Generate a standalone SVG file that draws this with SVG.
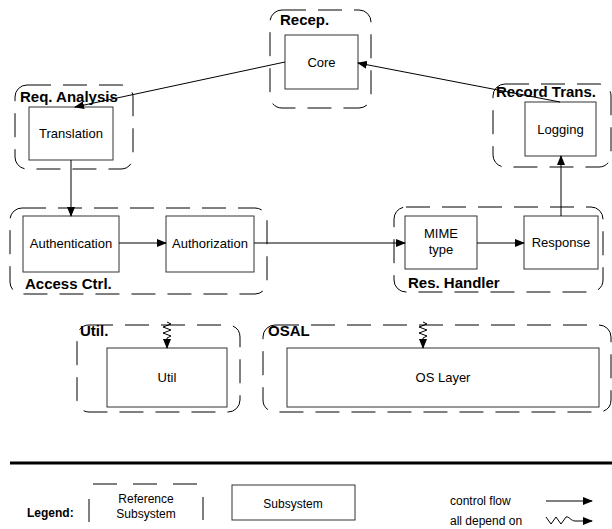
<svg xmlns="http://www.w3.org/2000/svg" width="612" height="529" viewBox="0 0 612 529">
<defs>
<style>
.grp{fill:none;stroke:#000;stroke-width:1;stroke-dasharray:24 12}
.box{fill:#fff;stroke:#333;stroke-width:1}
.lbl{font-family:"Liberation Sans",Arial,sans-serif;font-size:13px;fill:#000;text-anchor:middle}
.glbl{font-family:"Liberation Sans",Arial,sans-serif;font-size:15px;font-weight:bold;fill:#000}
.ln{fill:none;stroke:#000;stroke-width:1}
.leg{font-family:"Liberation Sans",Arial,sans-serif;font-size:12px;fill:#000}
</style>
<marker id="ah" markerWidth="10" markerHeight="8" refX="9" refY="4" orient="auto" markerUnits="userSpaceOnUse">
<path d="M0,0 L10,4 L0,8 Z" fill="#000"/>
</marker>
</defs>
<rect width="612" height="529" fill="#fff"/>

<g id="recep">
<rect class="grp" x="270" y="10" width="101" height="98" rx="12"/>
<text class="glbl" x="280" y="25">Recep.</text>
</g>
<g id="core">
<rect class="box" x="285" y="35" width="73" height="54"/>
<text class="lbl" x="321.5" y="67">Core</text>
</g>

<g id="req-analysis">
<rect class="grp" x="15" y="85" width="118" height="84" rx="12"/>
</g>
<g id="translation">
<rect class="box" x="29" y="107" width="84" height="53"/>
<text class="lbl" x="71" y="138">Translation</text>
</g>

<g id="record-trans">
<rect class="grp" x="493" y="84" width="118" height="83" rx="12"/>
</g>
<g id="logging">
<rect class="box" x="525" y="102" width="71" height="54"/>
<text class="lbl" x="560.5" y="134">Logging</text>
</g>

<g id="access-ctrl">
<rect class="grp" x="10" y="208" width="257" height="86" rx="12"/>
<text class="glbl" x="25" y="289">Access Ctrl.</text>
</g>
<g id="authentication">
<rect class="box" x="23" y="216" width="96" height="56"/>
<text class="lbl" x="71" y="248">Authentication</text>
</g>
<g id="authorization">
<rect class="box" x="166" y="216" width="88" height="56"/>
<text class="lbl" x="210" y="248">Authorization</text>
</g>

<g id="res-handler">
<rect class="grp" x="394" y="207" width="209" height="85" rx="12"/>
<text class="glbl" x="408" y="288">Res. Handler</text>
</g>
<g id="mime">
<rect class="box" x="405" y="216" width="72" height="53"/>
<text class="lbl" x="441" y="238">MIME</text>
<text class="lbl" x="441" y="254">type</text>
</g>
<g id="response">
<rect class="box" x="524" y="216" width="74" height="53"/>
<text class="lbl" x="561" y="247">Response</text>
</g>

<g id="util-grp">
<rect class="grp" x="77" y="325" width="163" height="87" rx="12"/>
<text class="glbl" x="80" y="336">Util.</text>
</g>
<g id="util">
<rect class="box" x="107" y="348" width="120" height="59"/>
<text class="lbl" x="167" y="382">Util</text>
</g>

<g id="osal">
<rect class="grp" x="263" y="325" width="348" height="87" rx="12"/>
<text class="glbl" x="268" y="336">OSAL</text>
</g>
<g id="os-layer">
<rect class="box" x="287" y="348" width="312" height="59"/>
<text class="lbl" x="443" y="382">OS Layer</text>
</g>

<g id="connectors">
<line class="ln" x1="285" y1="62" x2="75" y2="107" marker-end="url(#ah)"/>
<line class="ln" x1="560" y1="102" x2="358" y2="63" marker-end="url(#ah)"/>
<line class="ln" x1="71" y1="160" x2="71" y2="216" marker-end="url(#ah)"/>
<line class="ln" x1="119" y1="243" x2="166" y2="243" marker-end="url(#ah)"/>
<line class="ln" x1="254" y1="243" x2="405" y2="243" marker-end="url(#ah)"/>
<line class="ln" x1="477" y1="243" x2="524" y2="243" marker-end="url(#ah)"/>
<line class="ln" x1="561" y1="216" x2="561" y2="156" marker-end="url(#ah)"/>
<path class="ln" d="M167,322 L171,324 L163,327 L171,330 L163,333 L171,336 L167,338 L167,348" marker-end="url(#ah)"/>
<path class="ln" d="M423,322 L427,324 L419,327 L427,330 L419,333 L427,336 L423,338 L423,348" marker-end="url(#ah)"/>
</g>

<text class="glbl" x="20" y="102">Req. Analysis</text>
<text class="glbl" x="496" y="97">Record Trans.</text>

<g id="legend">
<line x1="10" y1="463" x2="612" y2="463" stroke="#000" stroke-width="3"/>
<text class="leg" x="27" y="517" font-weight="bold">Legend:</text>
<line class="ln" x1="89" y1="499" x2="89" y2="522" stroke="#333"/>
<line class="ln" x1="203" y1="497" x2="203" y2="520" stroke="#333"/>
<line class="ln" x1="93" y1="484" x2="117" y2="484"/>
<line class="ln" x1="133" y1="484" x2="157" y2="484"/>
<line class="ln" x1="173" y1="484" x2="197" y2="484"/>
<text class="lbl" x="146" y="503" style="font-size:12px">Reference</text>
<text class="lbl" x="146" y="518" style="font-size:12px">Subsystem</text>
<rect class="box" x="232" y="485" width="123" height="35"/>
<text class="lbl" x="293" y="508" style="font-size:12px">Subsystem</text>
<text class="leg" x="450" y="505">control flow</text>
<text class="leg" x="450" y="525">all depend on</text>
<line class="ln" x1="546" y1="501" x2="592" y2="501" marker-end="url(#ah)"/>
<path class="ln" d="M546,517 L551,524 L556,517 L561,524 L566,517 C569,516 571,521 575,521 L592,521" marker-end="url(#ah)"/>
</g>
</svg>
